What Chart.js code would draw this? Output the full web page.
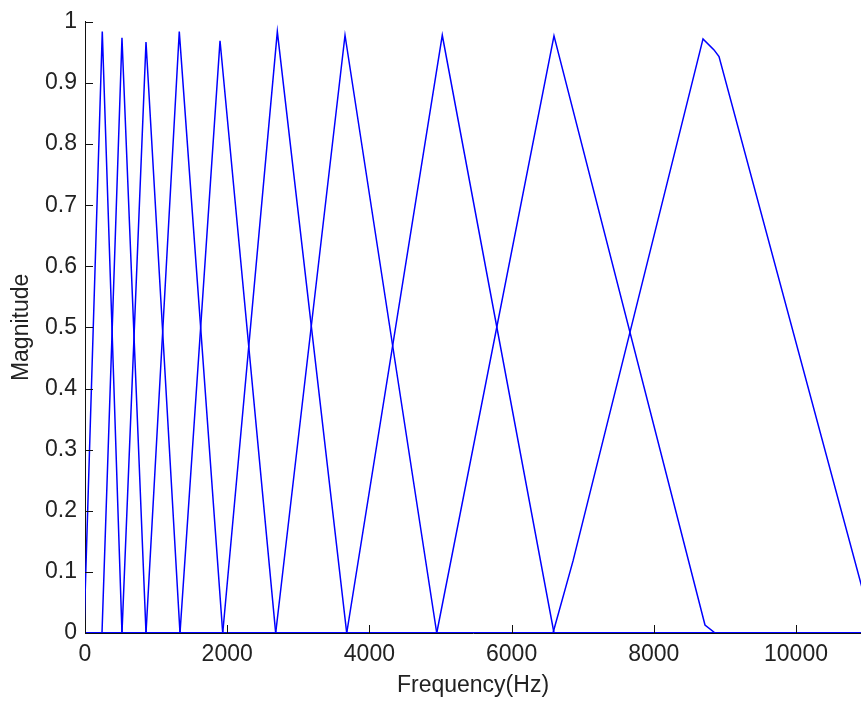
<!DOCTYPE html>
<html>
<head>
<meta charset="utf-8">
<title>Mel filter bank</title>
<script src="https://cdn.jsdelivr.net/npm/chart.js@4.4.1/dist/chart.umd.min.js"></script>
<style>
  html, body { margin: 0; padding: 0; background: #fff; }
  #wrap { width: 861px; height: 706px; position: relative; }
</style>
</head>
<body>
<div id="wrap"><canvas id="chart"></canvas></div>
<script>
"use strict";

// axis ranges and tick values
const X_MIN = 0;
const X_MAX = 10914;
const X_TICKS = [0, 2000, 4000, 6000, 8000, 10000];
const Y_TICKS = [0, 0.1, 0.2, 0.3, 0.4, 0.5, 0.6, 0.7, 0.8, 0.9, 1];

// triangular filters, vertices (Hz / magnitude)
const F1_HZ  = [-15, 243, 520, 11025];
const F1_MAG = [0, 0.984, 0, 0];
const F2_HZ  = [0, 239, 520, 858, 11025];
const F2_MAG = [0, 0, 0.974, 0, 0];
const F3_HZ  = [0, 520, 858, 1336, 11025];
const F3_MAG = [0, 0, 0.967, 0, 0];
const F4_HZ  = [0, 858, 1326, 1937, 11025];
const F4_MAG = [0, 0, 0.984, 0, 0];
const F5_HZ  = [0, 1336, 1899, 2682, 11025];
const F5_MAG = [0, 0, 0.969, 0, 0];
const F6_HZ  = [0, 1937, 2705, 3681, 11025];
const F6_MAG = [0, 0, 0.984, 0, 0];
const F7_HZ  = [0, 2682, 3657, 4947, 11025];
const F7_MAG = [0, 0, 0.978, 0, 0];
const F8_HZ  = [0, 3681, 5025, 6596, 11025];
const F8_MAG = [0, 0, 0.978, 0, 0];
const F9_HZ  = [0, 4947, 6596, 8720, 8862, 11025];
const F9_MAG = [0, 0, 0.977, 0.013, 0, 0];
const F10_HZ  = [0, 6582, 6864, 8692, 8847, 8917, 11100];
const F10_MAG = [0, 0, 0.118, 0.972, 0.954, 0.943, 0];

const FILTERS = [
  [F1_HZ, F1_MAG], [F2_HZ, F2_MAG], [F3_HZ, F3_MAG], [F4_HZ, F4_MAG], [F5_HZ, F5_MAG],
  [F6_HZ, F6_MAG], [F7_HZ, F7_MAG], [F8_HZ, F8_MAG], [F9_HZ, F9_MAG], [F10_HZ, F10_MAG],
];

const LINE_COLOR = "rgb(0,0,255)";
const AXIS_COLOR = "#111";
const TEXT_COLOR = "#222";
const FONT = { family: "'Liberation Sans', Arial, sans-serif", size: 23 };
const TICK_LEN = 8;

// MATLAB-style ticks pointing into the plot
const innerTicks = {
  id: "innerTicks",
  afterDatasetsDraw(chart) {
    const { ctx, chartArea: a, scales: { x, y } } = chart;
    ctx.save();
    ctx.strokeStyle = AXIS_COLOR;
    ctx.lineWidth = 1;
    ctx.beginPath();
    for (const v of X_TICKS) {
      const px = Math.round(x.getPixelForValue(v)) + 0.5;
      ctx.moveTo(px, a.bottom);
      ctx.lineTo(px, a.bottom - TICK_LEN);
    }
    for (const v of Y_TICKS) {
      const py = Math.round(y.getPixelForValue(v)) + 0.5;
      ctx.moveTo(a.left, py);
      ctx.lineTo(a.left + TICK_LEN, py);
    }
    ctx.stroke();
    ctx.restore();
  },
};

function buildDatasets() {
  return FILTERS.map(([hz, mag], i) => ({
    label: "filter " + (i + 1),
    data: hz.map((f, j) => ({ x: f, y: mag[j] })),
    showLine: true,
    borderColor: LINE_COLOR,
    borderWidth: 1.5,
    pointRadius: 0,
    tension: 0,
    fill: false,
  }));
}

function start() {
  new Chart(document.getElementById("chart"), {
    type: "scatter",
    data: { datasets: buildDatasets() },
    options: {
      responsive: true,
      maintainAspectRatio: false,
      animation: false,
      layout: { padding: { top: 15, right: 0, bottom: 0, left: 0 } },
      plugins: { legend: { display: false }, tooltip: { enabled: false } },
      scales: {
        x: {
          type: "linear",
          min: X_MIN, max: X_MAX,
          afterBuildTicks: s => { s.ticks = X_TICKS.map(v => ({ value: v })); },
          afterFit: s => { s.height = 73; },
          grid: { display: true, drawOnChartArea: false, drawTicks: false, color: "transparent" },
          border: { display: true, color: AXIS_COLOR, width: 1 },
          ticks: {
            color: TEXT_COLOR, font: FONT, padding: 8, maxRotation: 0, autoSkip: false,
            callback: v => String(v),
          },
          title: {
            display: true, text: "Frequency(Hz)", color: TEXT_COLOR, font: FONT,
            padding: { top: 0, bottom: 7 },
          },
        },
        y: {
          type: "linear",
          min: 0, max: 1,
          afterBuildTicks: s => { s.ticks = Y_TICKS.map(v => ({ value: v })); },
          afterFit: s => { s.width = 85; },
          grid: { display: true, drawOnChartArea: false, drawTicks: false, color: "transparent" },
          border: { display: true, color: AXIS_COLOR, width: 1 },
          ticks: {
            color: TEXT_COLOR, font: FONT, padding: 8, autoSkip: false,
            callback: v => String(Math.round(v * 10) / 10),
          },
          title: {
            display: true, text: "Magnitude", color: TEXT_COLOR, font: FONT,
            padding: { top: 8, bottom: 0 },
          },
        },
      },
    },
    plugins: [innerTicks],
  });
}

document.addEventListener("DOMContentLoaded", start);
</script>
</body>
</html>
